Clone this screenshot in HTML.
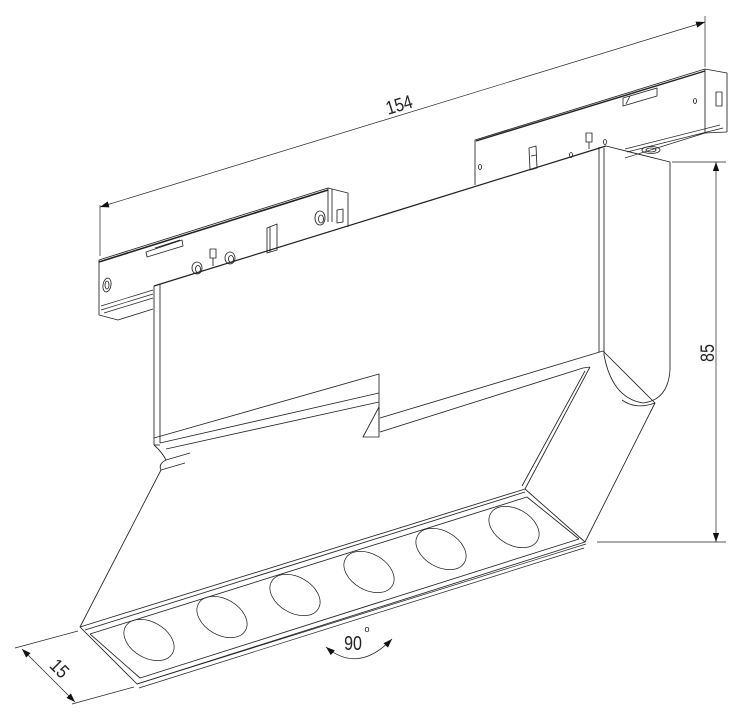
<!DOCTYPE html>
<html><head><meta charset="utf-8"><style>
html,body{margin:0;padding:0;background:#fff}
svg{display:block}
text{font-family:"Liberation Sans",sans-serif;fill:#222;font-weight:normal;stroke:none}
</style></head><body>
<svg width="740" height="720" viewBox="0 0 740 720" xmlns="http://www.w3.org/2000/svg" fill="none" stroke="#222" stroke-width="0.85" stroke-linejoin="round">
<defs>
<marker id="ar" viewBox="0 0 10 10" refX="10" refY="5" markerWidth="9" markerHeight="9" orient="auto-start-reverse" markerUnits="userSpaceOnUse"><path d="M0,1.5 L10,5 L0,8.5 z" fill="#111" stroke="none"/></marker>
</defs>

<!-- 154 dimension -->
<line x1="100" y1="205" x2="100" y2="256" stroke-width="0.7"/>
<line x1="705" y1="16" x2="705" y2="67" stroke-width="0.7"/>
<line x1="100" y1="207" x2="705" y2="22" stroke-width="0.7" marker-start="url(#ar)" marker-end="url(#ar)"/>
<text x="0" y="0" font-size="19" text-anchor="middle" transform="translate(401,111) rotate(-17) scale(0.85,1)">154</text>

<!-- 85 dimension -->
<line x1="672" y1="162" x2="726" y2="162" stroke-width="0.7"/>
<line x1="597" y1="542" x2="726" y2="542" stroke-width="0.7"/>
<line x1="716" y1="162" x2="716" y2="542" stroke-width="0.7" marker-start="url(#ar)" marker-end="url(#ar)"/>
<text x="0" y="0" font-size="19" text-anchor="middle" transform="translate(714,353) rotate(-90) scale(0.85,1)">85</text>

<!-- 15 dimension -->
<line x1="15" y1="648" x2="78" y2="631" stroke-width="0.7"/>
<line x1="72" y1="704" x2="134" y2="687" stroke-width="0.7"/>
<line x1="22" y1="649" x2="75" y2="702" stroke-width="0.7" marker-start="url(#ar)" marker-end="url(#ar)"/>
<text x="0" y="0" font-size="19" text-anchor="middle" transform="translate(55,673) rotate(45) scale(0.85,1)">15</text>

<!-- 90 deg -->
<text x="0" y="0" font-size="20" text-anchor="middle" transform="translate(353,650) scale(0.8,1)">90</text>
<text x="367" y="632" font-size="9" text-anchor="middle">o</text>
<path d="M326,647 Q358,674 392,639" stroke-width="0.8" marker-start="url(#ar)" marker-end="url(#ar)"/>

<!-- left rail -->
<path d="M99,260 L328,188 L348,193 L348,227"/>
<path d="M99,262 L328,190" stroke-width="1.6"/>
<path d="M99,260 L99,315 L118,320 L153,309"/>
<path d="M328,188 L328,222"/>
<path d="M332,189 L332,222"/>
<path d="M101,306 L153,290 M101,310 L153,294 M104,313 L153,298" stroke-width="0.7"/>
<path d="M146,252 L182,240 L183,246 L147,257 z M155,248 L180,240" stroke-width="0.8"/>
<ellipse cx="107" cy="285" rx="4" ry="7" transform="rotate(10 107 285)"/>
<ellipse cx="107" cy="285" rx="2" ry="4"/>
<ellipse cx="197" cy="268" rx="5" ry="6"/><ellipse cx="198" cy="269" rx="2.5" ry="3.5"/>
<ellipse cx="230" cy="258" rx="5" ry="6"/><ellipse cx="231" cy="259" rx="2.5" ry="3.5"/>
<ellipse cx="320" cy="218" rx="5" ry="7"/><ellipse cx="321" cy="219" rx="2.5" ry="4"/>
<rect x="210" y="249" width="6" height="9"/><line x1="213" y1="258" x2="213" y2="266"/>
<path d="M267,228 L277,224 L277,250 L267,253 z M270,227 L270,252"/>
<path d="M337,210 L343,209 L343,222 L337,223 z"/>

<!-- right rail -->
<path d="M475,185 L475,140 L705,69 L727,73 L727,132"/>
<path d="M476,141 L705,71" stroke-width="1.4"/>
<path d="M705,69 L705,133 L727,132"/>
<path d="M705,133 L625,158 M723,128 L627,152 M720,125 L625,149" stroke-width="0.7"/>
<ellipse cx="651" cy="150" rx="9" ry="3.5"/><ellipse cx="651" cy="150" rx="5" ry="2"/>
<path d="M623,98 L657,88 L657,96 L623,106 z M630,96 L626,104" stroke-width="0.8"/>
<path d="M716,92 L722,92 L722,106 L716,106 z"/>
<ellipse cx="695" cy="101" rx="1.5" ry="2.5"/>
<ellipse cx="480" cy="167" rx="1.5" ry="2.5"/>
<ellipse cx="571" cy="155" rx="1.5" ry="2.5"/>
<ellipse cx="605" cy="142" rx="1.5" ry="2.5"/>
<path d="M529,148 L536,146 L537,168 L530,170 z M531,156 L536,155"/>
<rect x="586" y="133" width="6" height="9"/><line x1="589" y1="142" x2="589" y2="149"/>

<!-- main housing front -->
<path d="M154,286 L606,146" stroke-width="1.2"/>
<path d="M154,286 L154,445"/>
<path d="M160,284 L160,443"/>
<path d="M154,445 L160,445"/>
<path d="M154,438 L379,374 L379,432"/>
<path d="M160,443 L379,393 M166,449 L379,402"/>
<path d="M363,437 L379,407 L379,437 z"/>
<path d="M380,432 L583,368 M380,418 L603,351"/>
<path d="M599,147 L599,352"/>
<!-- side cap -->
<path d="M606,146 L670,162 L670,370 Q668,400 643,403 Q612,398 604,355 L604,148"/>
<path d="M622,400 Q636,410 655,403"/>

<!-- lower head -->
<path d="M154,445 Q162,452 166,460 L190,453"/>
<path d="M166,460 Q158,464 161,470 L80,627"/>
<path d="M161,470 L185,463"/>
<path d="M590,367 L525,489 M585,371 L522,486"/>
<path d="M583,368 L590,367 M603,351 L655,403 L585,542"/>
<path d="M80,627 L525,489 L585,542 L137,684 z"/>
<path d="M85,630 L525,492 M90,634 L527,497 M90,634 L140,678 L579,539 M527,497 L579,539"/>
<path d="M137,684 L586,544 M139,688 L584,548" stroke-width="0.7"/>

<g stroke-width="0.75">
<ellipse cx="149" cy="640" rx="27" ry="18" transform="rotate(30 149 640)"/>
<ellipse cx="222" cy="617" rx="27" ry="18" transform="rotate(30 222 617)"/>
<ellipse cx="295" cy="595" rx="27" ry="18" transform="rotate(30 295 595)"/>
<ellipse cx="369" cy="572" rx="27" ry="18" transform="rotate(30 369 572)"/>
<ellipse cx="441" cy="549" rx="27" ry="18" transform="rotate(30 441 549)"/>
<ellipse cx="514" cy="527" rx="27" ry="18" transform="rotate(30 514 527)"/>
</g>
</svg>
</body></html>
